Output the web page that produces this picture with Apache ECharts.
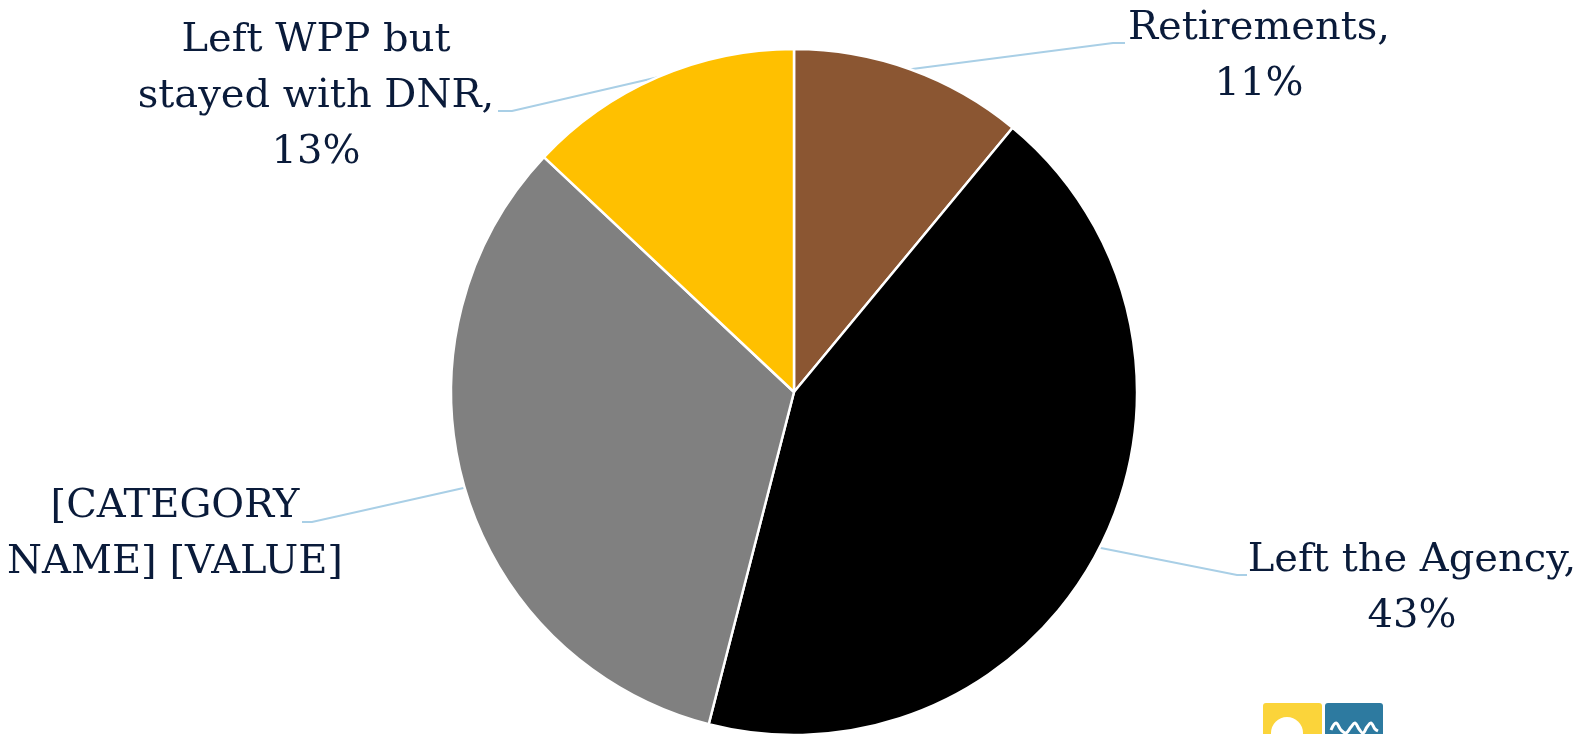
<!DOCTYPE html>
<html>
<head>
<meta charset="utf-8">
<script src="https://cdn.jsdelivr.net/npm/echarts@6/dist/echarts.min.js"></script>
<style>
html,body{margin:0;padding:0;background:#fff;}
#chart{width:1593px;height:734px;}
</style>
</head>
<body>
<div id="chart"></div>
<script>
const categories = ['Retirements', 'Left the Agency', '[CATEGORY NAME] [VALUE]', 'Left WPP but\nstayed with DNR'];
const values = [11, 43, 33, 13];
const colors = ['#8B5632', '#000000', '#808080', '#FFC000'];

// label anchor (text centre) and line elbow per slice
const labelPos = [
  {x: 1259, y: 57, elbow: [1113, 43], end: [1125, 43]},
  {x: 1412, y: 589, elbow: [1237, 575], end: [1247, 575]},
  {x: 175, y: 535, elbow: [312, 522], end: [302, 522]},
  {x: 316, y: 97, elbow: [512, 111], end: [498, 111]}
];

const chart = echarts.init(document.getElementById('chart'));
chart.setOption({
  backgroundColor: '#ffffff',
  animation: false,
  series: [{
    type: 'pie',
    center: [794, 392],
    radius: [0, 343],
    startAngle: 90,
    clockwise: true,
    avoidLabelOverlap: false,
    data: categories.map((c, i) => ({name: c, value: values[i], itemStyle: {color: colors[i]}})),
    itemStyle: {borderColor: '#ffffff', borderWidth: 2.5},
    label: {
      show: true,
      position: 'outside',
      fontFamily: 'DejaVu Serif',
      fontSize: 40,
      lineHeight: 56,
      color: '#0a1b3a',
      align: 'center',
      formatter: p => p.dataIndex === 2 ? '[CATEGORY\nNAME] [VALUE]' : p.name + ',\n' + p.percent + '%'
    },
    labelLine: {show: true, length: 20, length2: 20, lineStyle: {color: '#a9cfe6', width: 2}},
    labelLayout: function (params) {
      const lp = labelPos[params.dataIndex];
      const start = params.labelLinePoints ? params.labelLinePoints[0] : lp.elbow;
      return {
        x: lp.x,
        y: lp.y,
        align: 'center',
        verticalAlign: 'middle',
        labelLinePoints: [start, lp.elbow, lp.end]
      };
    }
  }],
  graphic: [
    {type: 'rect', shape: {x: 1263, y: 703, width: 59, height: 40, r: 3}, style: {fill: '#FBD43A'}},
    {type: 'circle', shape: {cx: 1287, cy: 733, r: 16}, style: {fill: '#ffffff'}},
    {type: 'rect', shape: {x: 1325, y: 703, width: 58, height: 40, r: 3}, style: {fill: '#2D7AA0'}},
    {type: 'polyline', shape: {points: [[1331, 730], [1336, 723], [1341, 730], [1346, 733], [1351, 727], [1355, 723], [1359, 729], [1363, 733], [1367, 727], [1371, 723], [1375, 729], [1378, 731]], smooth: 0.4},
     style: {fill: null, stroke: '#ffffff', lineWidth: 3}}
  ]
});
</script>
</body>
</html>
